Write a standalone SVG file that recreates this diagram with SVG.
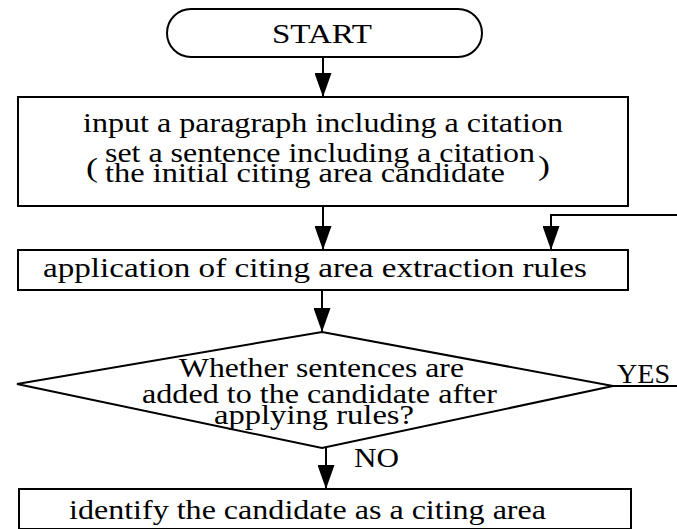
<svg xmlns="http://www.w3.org/2000/svg" width="677" height="529" viewBox="0 0 677 529">
  <style>
    .shape { fill: #ffffff; stroke: #000000; stroke-width: 2; }
    .conn { fill: none; stroke: #000000; stroke-width: 2; }
    .t { font-family: "Liberation Serif", "Times New Roman", serif; font-size: 28px; fill: #000000; }
  </style>
  <defs>
    <marker id="arrow" markerUnits="userSpaceOnUse" viewBox="0 0 24 17" markerWidth="24" markerHeight="17" refX="24" refY="8.5" orient="auto">
      <path d="M0,0 L24,8.5 L0,17 z" fill="#000000"/>
    </marker>
  </defs>
  <rect width="677" height="529" fill="#ffffff"/>

  <g id="start">
    <rect class="shape" x="167" y="9" width="315" height="48" rx="24" ry="24"/>
    <text class="t" x="272" y="43" font-size="25" textLength="100" lengthAdjust="spacingAndGlyphs">START</text>
  </g>

  <g id="input">
    <rect class="shape" x="18" y="97" width="610" height="109"/>
    <text class="t" x="83" y="132" textLength="480" lengthAdjust="spacingAndGlyphs">input a paragraph including a citation</text>
    <text class="t" x="86" y="177" font-size="36" textLength="12" lengthAdjust="spacingAndGlyphs">(</text>
    <text class="t" x="105" y="162" font-size="26" textLength="430" lengthAdjust="spacingAndGlyphs">set a sentence including a citation</text>
    <text class="t" x="105" y="182" font-size="26" textLength="400" lengthAdjust="spacingAndGlyphs">the initial citing area candidate</text>
    <text class="t" x="538" y="175" font-size="36" textLength="12" lengthAdjust="spacingAndGlyphs">)</text>
  </g>

  <g id="apply">
    <rect class="shape" x="18" y="250" width="610" height="40"/>
    <text class="t" x="43" y="277" textLength="544" lengthAdjust="spacingAndGlyphs">application of citing area extraction rules</text>
  </g>

  <g id="decision">
    <polygon class="shape" points="322,332 613,386 322,448 17,384"/>
    <text class="t" x="179" y="377" font-size="26" textLength="285" lengthAdjust="spacingAndGlyphs">Whether sentences are</text>
    <text class="t" x="142" y="403" font-size="26" textLength="355" lengthAdjust="spacingAndGlyphs">added to the candidate after</text>
    <text class="t" x="214" y="424" font-size="26" textLength="200" lengthAdjust="spacingAndGlyphs">applying rules?</text>
  </g>

  <g id="identify">
    <rect class="shape" x="19" y="489" width="612" height="40"/>
    <text class="t" x="69" y="519" textLength="477" lengthAdjust="spacingAndGlyphs">identify the candidate as a citing area</text>
  </g>

  <g id="connectors">
    <line class="conn" x1="323" y1="57" x2="323" y2="97" marker-end="url(#arrow)"/>
    <line class="conn" x1="323" y1="206" x2="323" y2="250" marker-end="url(#arrow)"/>
    <line class="conn" x1="322" y1="290" x2="322" y2="332" marker-end="url(#arrow)"/>
    <line class="conn" x1="326" y1="448" x2="326" y2="489" marker-end="url(#arrow)"/>
    <polyline class="conn" points="677,215 551,215 551,250" marker-end="url(#arrow)"/>
    <line class="conn" x1="613" y1="386" x2="677" y2="386"/>
    <text class="t" x="617" y="383" textLength="53" lengthAdjust="spacingAndGlyphs">YES</text>
    <text class="t" x="354" y="467" font-size="26" textLength="45" lengthAdjust="spacingAndGlyphs">NO</text>
  </g>
</svg>
